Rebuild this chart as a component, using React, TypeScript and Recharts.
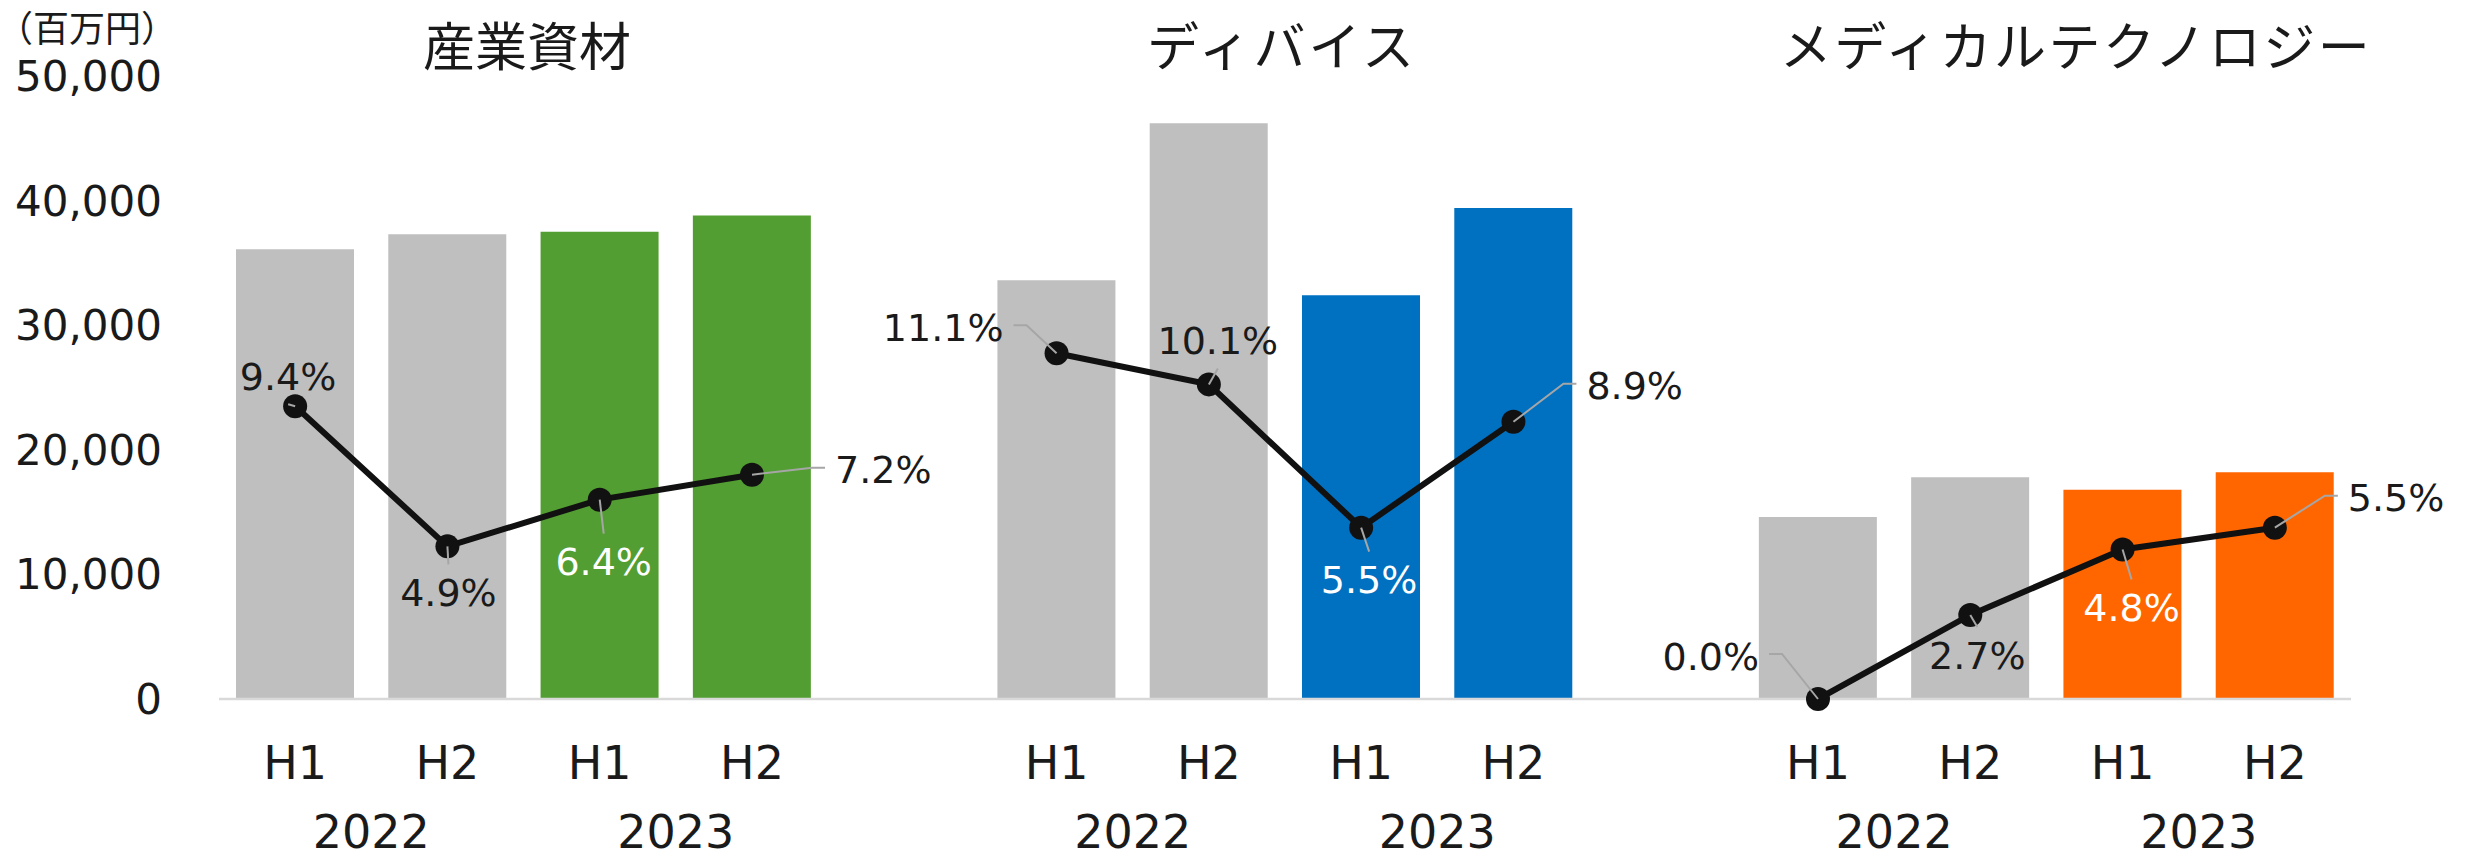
import React from "react";
import { ComposedChart, Bar, Line, XAxis, YAxis, Cell, LabelList } from "recharts";

const segments = ["産業資材", "ディバイス", "メディカルテクノロジー"];
const halves = ["H1", "H2", "H1", "H2"];
const years = ["2022", "2022", "2023", "2023"];
const yTicks = [0, 10000, 20000, 30000, 40000, 50000];

// sales (百万円)
const industrialSales = [36100, 37300, 37500, 38800];
const deviceSales = [33600, 46200, 32400, 39400];
const medicalSales = [14600, 17800, 16800, 18200];

// operating margin (%)
const industrialMargin = [9.4, 4.9, 6.4, 7.2];
const deviceMargin = [11.1, 10.1, 5.5, 8.9];
const medicalMargin = [0.0, 2.7, 4.8, 5.5];

const segmentColors = ["#529E32", "#0070C0", "#FF6600"];
const pastColor = "#BFBFBF";
const textColor = "#1a1a1a";
const font = '"DejaVu Sans", "Noto Sans CJK JP", sans-serif';

const W = 2473;
const H = 862;
const PLOT_LEFT = 219;
const PLOT_RIGHT = 2351;
const PLOT_TOP = 76;
const PLOT_BOTTOM = 699;

// where each % label sits relative to its dot
const labelPlacement = [
    [
        { side: "above", dx: -7, dy: -30 },
        { side: "below", dx: 1, dy: 46 },
        { side: "below", dx: 4, dy: 62, light: true },
        { side: "right", ex: 60, ey: -7 },
    ],
    [
        { side: "left", ex: -30, ey: -28 },
        { side: "above", dx: 9, dy: -44 },
        { side: "below", dx: 8, dy: 52, light: true },
        { side: "right", ex: 50, ey: -38 },
    ],
    [
        { side: "left", ex: -36, ey: -45 },
        { side: "below", dx: 7, dy: 40 },
        { side: "below", dx: 9, dy: 58, light: true },
        { side: "right", ex: 50, ey: -32 },
    ],
];

const titleCenters = [527, 1282, 2076];
const titleSpacing = [0, 3, 2.5];

const salesBySegment = [industrialSales, deviceSales, medicalSales];
const marginBySegment = [industrialMargin, deviceMargin, medicalMargin];

const rows: any[] = [];
segments.forEach((seg, s) => {
    halves.forEach((h, i) => {
        rows.push({
            key: `${s}-${i}`,
            half: h,
            year: years[i],
            first: i % 2 === 0,
            sales: salesBySegment[s][i],
            margin: marginBySegment[s][i],
            color: years[i] === "2022" ? pastColor : segmentColors[s],
            place: labelPlacement[s][i],
        });
    });
    if (s < segments.length - 1) {
        rows.push({ key: `gap-${s}`, half: "", year: "", first: false, sales: null, margin: null, color: pastColor });
    }
});

const band = (PLOT_RIGHT - PLOT_LEFT) / rows.length;

const XTick = (props: any) => {
    const { x, y, index } = props;
    const row = rows[index];
    if (!row || !row.half) return null;
    return (
        <g>
            <text x={x} y={y + 63} dy="0.36em" textAnchor="middle" fontSize={46} fontFamily={font} fill={textColor}>
                {row.half}
            </text>
            {row.first && (
                <text x={x + band / 2} y={y + 132} dy="0.36em" textAnchor="middle" fontSize={46} fontFamily={font} fill={textColor}>
                    {row.year}
                </text>
            )}
        </g>
    );
};

const PctLabel = (props: any) => {
    const { x, y, value, index } = props;
    if (value == null || x == null || y == null) return null;
    const p = rows[index]?.place;
    if (!p) return null;
    const text = `${Number(value).toFixed(1)}%`;
    const color = p.light ? "#ffffff" : textColor;
    if (p.side === "left" || p.side === "right") {
        const dir = p.side === "right" ? 1 : -1;
        const ex = x + p.ex;
        const ey = y + p.ey;
        const hx = ex + dir * 13;
        return (
            <g>
                <polyline points={`${x},${y} ${ex},${ey} ${hx},${ey}`} fill="none" stroke="#A6A6A6" strokeWidth={2} />
                <text x={hx + dir * 10} y={ey + 2} dy="0.36em" textAnchor={dir > 0 ? "start" : "end"} fontSize={38} fontFamily={font} fill={color}>
                    {text}
                </text>
            </g>
        );
    }
    const tx = x + p.dx;
    const ty = y + p.dy;
    const edge = ty - Math.sign(p.dy) * 28;
    return (
        <g>
            <line x1={x} y1={y} x2={tx} y2={edge} stroke="#A6A6A6" strokeWidth={2} />
            <text x={tx} y={ty} dy="0.36em" textAnchor="middle" fontSize={38} fontFamily={font} fill={color}>
                {text}
            </text>
        </g>
    );
};

export default function App() {
    return (
        <div style={{ position: "absolute", left: 0, top: 0, width: W, height: H, background: "#fff", fontFamily: font }}>
            <ComposedChart
                width={W}
                height={H}
                data={rows}
                margin={{ top: PLOT_TOP, right: W - PLOT_RIGHT, left: 0, bottom: 0 }}
            >
                <XAxis
                    dataKey="key"
                    interval={0}
                    height={H - PLOT_BOTTOM}
                    tickLine={false}
                    tickSize={0}
                    tickMargin={0}
                    axisLine={{ stroke: "#D9D9D9", strokeWidth: 2.5 }}
                    tick={<XTick />}
                />
                <YAxis
                    yAxisId="sales"
                    width={PLOT_LEFT}
                    domain={[0, 50000]}
                    ticks={yTicks}
                    axisLine={false}
                    tickLine={false}
                    tickSize={0}
                    tickMargin={57}
                    tickFormatter={(v: number) => v.toLocaleString("en-US")}
                    tick={{ fontSize: 42, fill: textColor, fontFamily: font }}
                />
                <YAxis yAxisId="pct" orientation="right" hide domain={[0, 20]} />
                <Bar yAxisId="sales" dataKey="sales" barSize={118} isAnimationActive={false}>
                    {rows.map((r) => (
                        <Cell key={r.key} fill={r.color} />
                    ))}
                </Bar>
                <Line
                    yAxisId="pct"
                    dataKey="margin"
                    stroke="#111111"
                    strokeWidth={6}
                    dot={{ r: 12, fill: "#111111", stroke: "#111111", strokeWidth: 0 }}
                    activeDot={false}
                    connectNulls={false}
                    isAnimationActive={false}
                >
                    <LabelList dataKey="margin" content={<PctLabel />} />
                </Line>
            </ComposedChart>
            {segments.map((seg, s) => (
                <div
                    key={seg}
                    style={{
                        position: "absolute",
                        left: titleCenters[s],
                        top: 18,
                        transform: "translateX(-50%)",
                        fontSize: 52,
                        lineHeight: 1,
                        letterSpacing: titleSpacing[s],
                        whiteSpace: "nowrap",
                        color: textColor,
                        fontFamily: '"Noto Sans CJK JP", sans-serif',
                    }}
                >
                    {seg}
                </div>
            ))}
            <div
                style={{
                    position: "absolute",
                    left: -3,
                    top: 8,
                    fontSize: 36,
                    lineHeight: 1,
                    whiteSpace: "nowrap",
                    color: textColor,
                    fontFamily: '"Noto Sans CJK JP", sans-serif',
                }}
            >
                （百万円）
            </div>
        </div>
    );
}
